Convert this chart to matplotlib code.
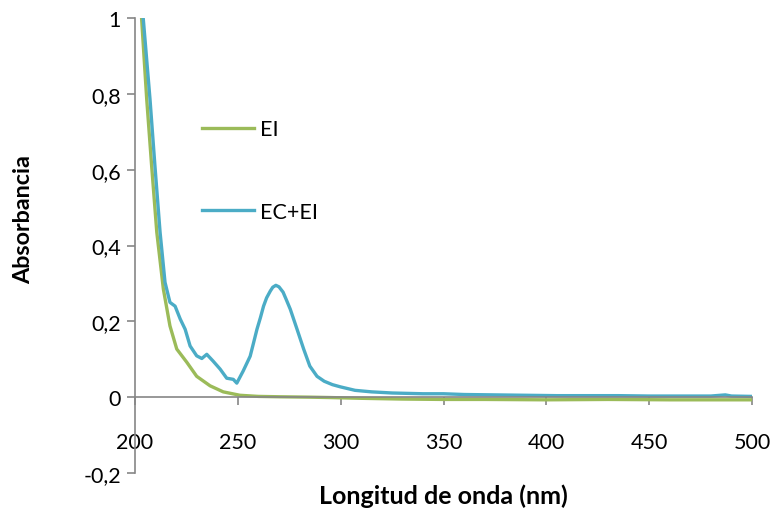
import numpy as np
import matplotlib.pyplot as plt

# Spectra (wavelength nm, absorbance)
wl_ecei = [202, 204, 207.3, 209.7, 212.2, 214.6, 217, 219.5, 222, 224.4, 226.8, 230,
           232.5, 234.9, 238, 241.4, 244.6, 247.8, 249.5, 252.6, 256, 257.5, 259.3, 261,
           262.5, 264, 265.8, 267, 268.5, 270, 272, 273.5, 275.5, 278.8, 282, 285, 288.5,
           292, 296, 300, 307, 315, 325, 340, 350, 360, 375, 390, 405, 420, 435, 450, 465,
           480, 487, 490, 500]
abs_ecei = [1.15, 1.0, 0.786, 0.61, 0.435, 0.303, 0.25, 0.24, 0.206, 0.179, 0.135, 0.109,
            0.102, 0.113, 0.095, 0.074, 0.05, 0.047, 0.037, 0.069, 0.108, 0.14, 0.179, 0.21,
            0.24, 0.262, 0.28, 0.29, 0.295, 0.291, 0.277, 0.258, 0.232, 0.179, 0.127, 0.082,
            0.055, 0.042, 0.033, 0.027, 0.018, 0.014, 0.011, 0.009, 0.009, 0.007, 0.006,
            0.005, 0.004, 0.004, 0.004, 0.003, 0.003, 0.003, 0.006, 0.003, 0.002]

wl_ei = [202, 203.2, 205.7, 208.1, 210.6, 213.8, 217, 220.3, 225.2, 230, 236.5, 242.9,
         251, 260, 270.6, 285, 295, 310, 330, 350, 370, 400, 430, 460, 500]
abs_ei = [1.15, 1.0, 0.786, 0.61, 0.435, 0.285, 0.188, 0.127, 0.092, 0.055, 0.03, 0.014,
          0.005, 0.002, 0.001, 0.0, -0.001, -0.003, -0.005, -0.006, -0.006, -0.007, -0.006,
          -0.007, -0.007]

green = '#9BBB59'
blue = '#4BACC6'
gray = '#868686'

plt.rcParams['font.family'] = ['Lato', 'DejaVu Sans']

fig = plt.figure(figsize=(7.74, 5.10), dpi=100)
ax = fig.add_axes([0.1744, 0.0706, 0.7972, 0.8921])

ax.plot(wl_ei, abs_ei, color=green, linewidth=2.4, label='EI')
ax.plot(wl_ecei, abs_ecei, color=blue, linewidth=2.4, label='EC+EI')

ax.set_xlim(200, 500)
ax.set_ylim(-0.2, 1)
ax.set_xticks(np.arange(200, 501, 50))
ax.set_yticks(np.arange(-0.2, 1.01, 0.2))
ax.set_yticklabels(['-0,2', '0', '0,2', '0,4', '0,6', '0,8', '1'])

ax.spines['top'].set_visible(False)
ax.spines['right'].set_visible(False)
ax.spines['bottom'].set_position(('data', 0))
for s in ('left', 'bottom'):
    ax.spines[s].set_color(gray)
    ax.spines[s].set_linewidth(1.2)

ax.tick_params(axis='both', colors=gray, labelcolor='black', labelsize=15.5,
               direction='out', length=6, width=1.2)
ax.tick_params(axis='x', pad=19)
ax.tick_params(axis='y', pad=4)

ax.set_xlabel('Longitud de onda (nm)', fontsize=18, fontweight='bold')
ax.xaxis.set_label_coords(0.5, -0.022)
ax.set_ylabel('Absorbancia', fontsize=16.8, fontweight='bold')
ax.yaxis.set_label_coords(-0.163, 0.56)

ax.legend(loc='upper left', bbox_to_anchor=(0.077, 0.82), frameon=False,
          fontsize=15.5, handlelength=2.4, handletextpad=0.3, labelspacing=2.9)

fig.savefig('out.png', dpi=100)
